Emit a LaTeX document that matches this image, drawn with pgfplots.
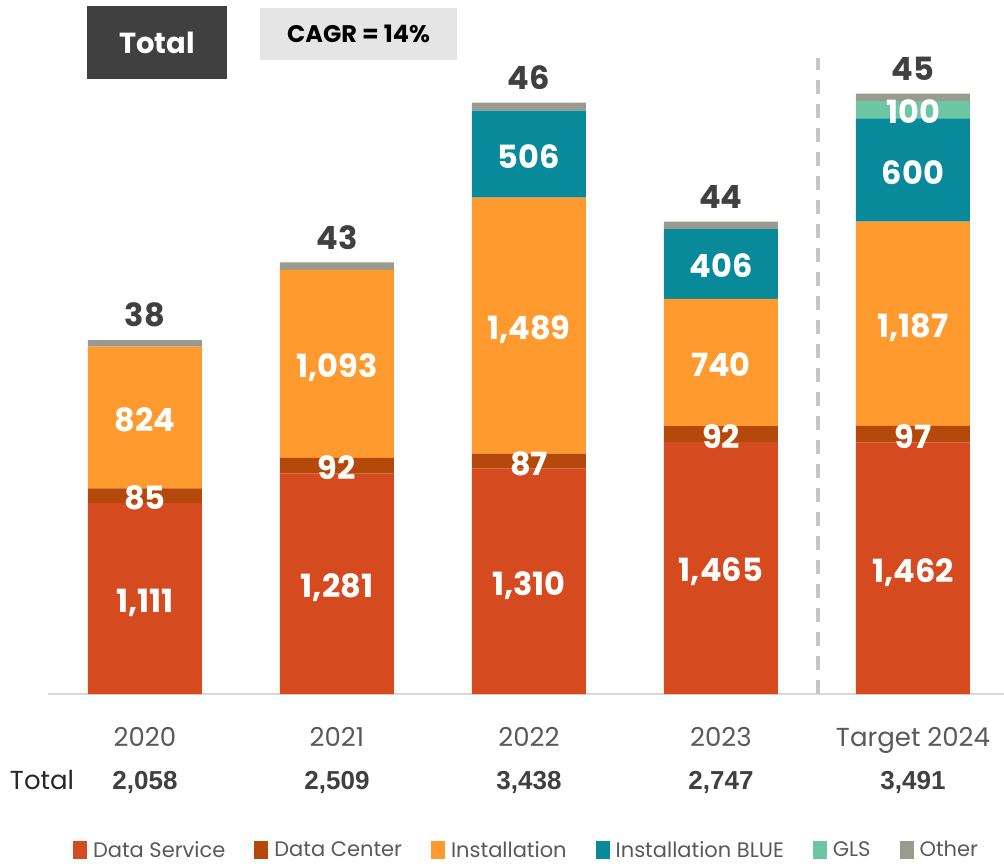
\documentclass[border=0pt]{standalone}
\usepackage{pgfplots}
\pgfplotsset{compat=1.18}
\usepackage{pgfplotstable}
\usepackage{fontspec}
\setmainfont{Poppins}
\newfontfamily\arialfont{Liberation Sans}

\definecolor{dserv}{HTML}{D54B1F}
\definecolor{dcent}{HTML}{B5490B}
\definecolor{inst}{HTML}{FF9A2E}
\definecolor{instblue}{HTML}{088A9A}
\definecolor{gls}{HTML}{6CC5A3}
\definecolor{other}{HTML}{9A9A90}
\definecolor{darkgray}{HTML}{404040}
\definecolor{midgray}{HTML}{595959}

% x: 0=2020 ... 4=Target 2024
\pgfplotstableread{
x ds   dc  in   ib  gls oth
0 1111 85  824  0   0   38
1 1281 92  1093 0   0   43
2 1310 87  1489 506 0   46
3 1465 92  740  406 0   44
4 1462 97  1187 600 100 45
}\revtable

% segment labels sit in the middle of their segment; zero values get none
\pgfplotsset{
  seg/.style={
    point meta=rawy,
    nodes near coords={\pgfmathfloatifflags{\pgfplotspointmeta}{0}{}{\pgfmathprintnumber{\pgfplotspointmeta}}},
    every node near coord/.append style={anchor=center, text=white,
      font=\bfseries\fontsize{32}{36}\selectfont, text depth=0pt, yshift=-2pt},
  },
}
\tikzset{tot/.style={anchor=base, font=\arialfont\bfseries\fontsize{26}{30}\selectfont, text=darkgray}}

\begin{document}
\begin{tikzpicture}
\begin{axis}[
  scale only axis, width=956pt, height=694pt,
  ybar stacked, bar width=114pt,
  xmin=-0.505, xmax=4.474, ymin=0, ymax=4035,
  axis x line=bottom, axis y line=none,
  x axis line style={draw=black!15, line width=2pt, -},
  xtick={0,1,2,3,4}, xticklabels={2020,2021,2022,2023,Target 2024},
  major tick length=0pt,
  xticklabel style={font=\fontsize{26}{30}\selectfont, text=midgray, yshift=-30pt},
  ytick=\empty,
  clip=false,
  /pgf/number format/1000 sep={,},
  /pgf/number format/assume math mode=true,
  every axis plot post/.append style={draw=none,
    legend image code/.code={\fill[##1] (0pt,-9pt) rectangle (14pt,9pt);
      \path (0pt,0pt) -- (19pt,0pt);}},
  legend style={at={(0.5,-0.2245)}, anchor=center, draw=none, fill=none,
    legend columns=6, font=\fontsize{21}{24}\selectfont, text=midgray,
    /tikz/every even column/.append style={column sep=28pt},
    nodes={inner sep=1pt}},
]
\addplot[fill=dserv, seg] table[x=x, y=ds] {\revtable};
\addplot[fill=dcent, seg] table[x=x, y=dc] {\revtable};
\addplot[fill=inst, seg] table[x=x, y=in] {\revtable};
\addplot[fill=instblue, seg] table[x=x, y=ib] {\revtable};
\addplot[fill=gls, seg] table[x=x, y=gls] {\revtable};
\addplot[fill=other, point meta=rawy,
  nodes near coords={\pgfmathprintnumber{\pgfplotspointmeta}},
  every node near coord/.append style={anchor=south, text=darkgray,
    font=\bfseries\fontsize{32}{36}\selectfont, yshift=13pt}]
  table[x=x, y=oth] {\revtable};
\legend{Data Service, Data Center, Installation, Installation BLUE, GLS, Other}

\draw[color=black!22, line width=4pt, dash pattern=on 14pt off 10pt]
  (axis cs:3.505,0) -- (axis cs:3.505,3698);

\node[anchor=base, font=\fontsize{26}{30}\selectfont, text=black!85]
  at ([yshift=-95pt]axis cs:-0.536,0) {Total};
\node[tot] at ([yshift=-95pt]axis cs:0,0) {2,058};
\node[tot] at ([yshift=-95pt]axis cs:1,0) {2,509};
\node[tot] at ([yshift=-95pt]axis cs:2,0) {3,438};
\node[tot] at ([yshift=-95pt]axis cs:3,0) {2,747};
\node[tot] at ([yshift=-95pt]axis cs:4,0) {3,491};
\end{axis}

\node[fill=darkgray, text=white, minimum width=140pt, minimum height=73pt,
  inner sep=0pt, font=\bfseries\fontsize{29}{33}\selectfont] at (109pt,651.5pt) {Total};
\node[fill=black!10, text=black, minimum width=197pt, minimum height=52pt,
  inner sep=0pt, font=\bfseries\fontsize{24}{28}\selectfont] at (310.5pt,660pt) {CAGR = 14\%};

\pgfresetboundingbox
\path (-48pt,-169pt) rectangle (956pt,694pt);
\end{tikzpicture}
\end{document}
